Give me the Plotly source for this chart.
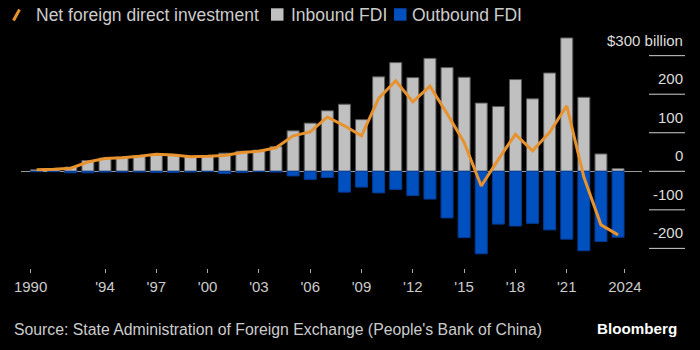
import plotly.graph_objects as go

years = list(range(1990, 2025))
inbound = [4, 5, 11, 28, 34, 37, 40, 44, 43, 39, 40, 47, 52, 55, 64, 105, 125, 157, 174, 134,
           245, 282, 243, 293, 269, 244, 177, 168, 238, 188, 255, 346, 192, 45, 7]
outbound = [-1, -1, -4, -4, -2, -2, -2, -3, -3, -2, -1, -6, -3, -1, -2, -12, -21, -16, -54, -41,
            -56, -47, -63, -72, -121, -172, -214, -137, -142, -135, -152, -176, -206, -182, -171]
net = [4, 5, 8, 24, 33, 35, 39, 44, 42, 38, 39, 41, 49, 52, 61, 92, 102, 141, 118, 92,
       189, 235, 180, 221, 150, 75, -38, 31, 96, 53, 101, 170, -15, -139, -165]

x_tick_vals = [1989.65, 1994, 1997, 2000, 2003, 2006, 2009, 2012, 2015, 2018, 2021, 2024.4]
x_tick_text = ["1990", "'94", "'97", "'00", "'03", "'06", "'09", "'12", "'15", "'18", "'21", "2024"]
y_tick_vals = [300, 200, 100, 0, -100, -200]
y_tick_text = ["$300 billion", "200", "100", "0", "-100", "-200"]

GRAY = "#c0c0c0"
BLUE = "#0051bf"
ORANGE = "#e8922e"
TEXT = "#cccccc"
FONT = "Liberation Sans, Arial, sans-serif"

W, H = 700, 350
L, R, T, B = 21, 642, 30, 268


def px(x):
    return (x - L) / (R - L)


def py(y):
    return (B - y) / (B - T)


fig = go.Figure()
fig.add_trace(go.Bar(x=years, y=inbound, name="Inbound FDI", width=0.7,
                     marker=dict(color=GRAY, line=dict(color="#5a5a5a", width=1))))
fig.add_trace(go.Bar(x=years, y=outbound, name="Outbound FDI", width=0.7,
                     marker=dict(color=BLUE, line=dict(color="#003d99", width=1))))
fig.add_trace(go.Scatter(x=years, y=net, mode="lines", name="Net foreign direct investment",
                         line=dict(color=ORANGE, width=3)))

shapes = []
annotations = []

# right-side value labels with short rules beneath
for v, t in zip(y_tick_vals, y_tick_text):
    shapes.append(dict(type="line", xref="paper", yref="y", x0=px(649), x1=px(685), y0=v, y1=v,
                       line=dict(color="#d0d0d0", width=1), layer="above"))
    annotations.append(dict(text=t, xref="paper", yref="y", x=px(685), y=v, yshift=15.5,
                            xanchor="right", yanchor="middle", showarrow=False,
                            font=dict(size=15, color="#dddddd", family=FONT)))

# legend (manual)
shapes.append(dict(type="line", xref="paper", yref="paper", x0=px(13.5), y0=py(20.5),
                   x1=px(19.5), y1=py(9.5), line=dict(color=ORANGE, width=3)))
shapes.append(dict(type="rect", xref="paper", yref="paper", x0=px(271), x1=px(283.5),
                   y0=py(20.7), y1=py(8.3), fillcolor=GRAY, line=dict(width=0)))
shapes.append(dict(type="rect", xref="paper", yref="paper", x0=px(394), x1=px(406.5),
                   y0=py(20.7), y1=py(8.3), fillcolor=BLUE, line=dict(width=0)))
for xx, t in [(34, "Net foreign direct investment"), (288.5, "Inbound FDI"), (410, "Outbound FDI")]:
    annotations.append(dict(text=t, xref="paper", yref="paper", x=px(xx), y=py(14.5),
                            xanchor="left", yanchor="middle", showarrow=False,
                            font=dict(size=17.5, color=TEXT, family=FONT)))

annotations.append(dict(text="Source: State Administration of Foreign Exchange (People's Bank of China)",
                        xref="paper", yref="paper", x=px(12), y=py(329.5), xanchor="left",
                        yanchor="middle", showarrow=False,
                        font=dict(size=15.8, color=TEXT, family=FONT)))
annotations.append(dict(text="<b>Bloomberg</b>", xref="paper", yref="paper", x=px(679), y=py(328),
                        xanchor="right", yanchor="middle", showarrow=False,
                        font=dict(size=15.2, color="#ffffff", family=FONT)))

fig.update_layout(
    width=W, height=H,
    margin=dict(l=L, r=W - R, t=T, b=H - B, pad=0),
    paper_bgcolor="black", plot_bgcolor="black",
    barmode="relative",
    showlegend=False,
    font=dict(family=FONT, color=TEXT),
    xaxis=dict(range=[1989.088, 2025.40], tickmode="array", tickvals=x_tick_vals,
               ticktext=x_tick_text, ticks="outside", ticklen=4, tickwidth=1,
               tickcolor="#aaaaaa", showgrid=False, zeroline=False, showline=False,
               tickfont=dict(size=15, color=TEXT, family=FONT), ticklabelstandoff=1),
    yaxis=dict(range=[-250.9, 366.6], showgrid=False, showticklabels=False, ticks="",
               zeroline=True, zerolinecolor="#999999", zerolinewidth=1, showline=False),
    shapes=shapes,
    annotations=annotations,
)

fig.write_html("out.html")
